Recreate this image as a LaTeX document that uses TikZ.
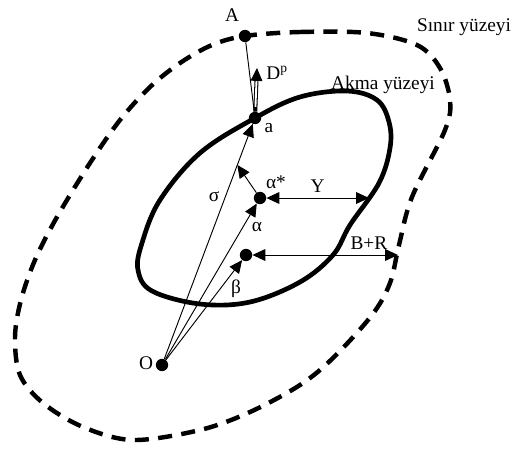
\documentclass[tikz,border=0pt]{standalone}
\usepackage{fontspec}
\setmainfont{Liberation Serif}
\usetikzlibrary{arrows.meta,positioning,calc}

\begin{document}
\begin{tikzpicture}[x=0.03cm, y=-0.03cm, >={Triangle[length=11pt,width=10pt]},
    every node/.style={font=\fontsize{16.5}{19}\selectfont, inner sep=1pt},
    dot/.style={circle, fill, inner sep=0pt, minimum size=0.37cm},
    thinline/.style={line width=0.8pt}]
    \useasboundingbox (0,0) rectangle (511,448);

    % boundary surface (dashed)
    \draw[line width=3.8pt, dash pattern=on 12pt off 8pt] plot[smooth cycle, tension=0.55] coordinates {
        (245,36) (300,32) (367,33) (417,45) (440,68) (450,100) (445,130)
        (412,197) (399,245) (390,283) (372,315) (333,358) (300,385) (250,412)
        (200,430) (133,440) (83,427) (43,403) (20,375) (15,337) (21,300) (35,260)
        (57,217) (90,163) (120,120) (150,87) (180,63) (212,45)};

    % yield surface
    \draw[line width=4pt] plot[smooth cycle, tension=0.6] coordinates {
        (255,118) (300,97) (347,91) (377,100) (389,122) (390,148) (379,183)
        (350,225) (333,255) (300,282) (250,302) (200,304) (152,291)
        (138,270) (142,243) (160,200) (200,153)};

    % points
    \node[dot] (A) at (245,36) {};
    \node[dot] (a) at (255,118) {};
    \node[dot] (O) at (162,365) {};
    \node[dot] (astar) at (260,198) {};
    \node[dot] (beta) at (246,255) {};
    \coordinate (Dtip) at (257,68);
    \coordinate (Dbase) at ($(a)!0.75!(Dtip)$);
    \coordinate (Yend) at (369,198);
    \coordinate (BRend) at (398,255);
    \coordinate (sig) at ($(O)!0.81!(a)$);

    % vectors from O
    \draw[thinline] (A) -- (a);
    \draw[thinline, ->] (O) -- (a);
    \draw[thinline, ->] (O) -- (astar);
    \draw[thinline, ->] (O) -- (beta);
    \draw[thinline, ->] (astar) -- (sig);

    % plastic strain rate (double arrow)
    \draw[line width=3.4pt] (a) -- (Dbase);
    \draw[white, line width=1.6pt, shorten <=4pt] (a) -- (Dbase);
    \draw[thinline, ->] (Dbase) -- (Dtip);

    % distances
    \draw[thinline, <->] (astar) -- (Yend) node[midway, above=3pt] {Y};
    \draw[thinline, <->] (beta) -- (BRend) node[pos=0.8, above=3pt] {B+R};

    % labels
    \node (labA) at (232,15) {A};
    \node (laba) at (269,128) {a};
    \node (labO) at (146,363) {O};
    \node (labastar) at (276,182) {α*};
    \node (labalpha) at (257,227) {α};
    \node (labbeta) at (236,289) {β};
    \node (labsigma) at (214,197) {σ};
    \node (labD) at (277,73) {D\textsuperscript{p}};
    \node (labS) at (464,27) {Sınır yüzeyi};
    \node (labY) at (383,85) {Akma yüzeyi};
\end{tikzpicture}
\end{document}
